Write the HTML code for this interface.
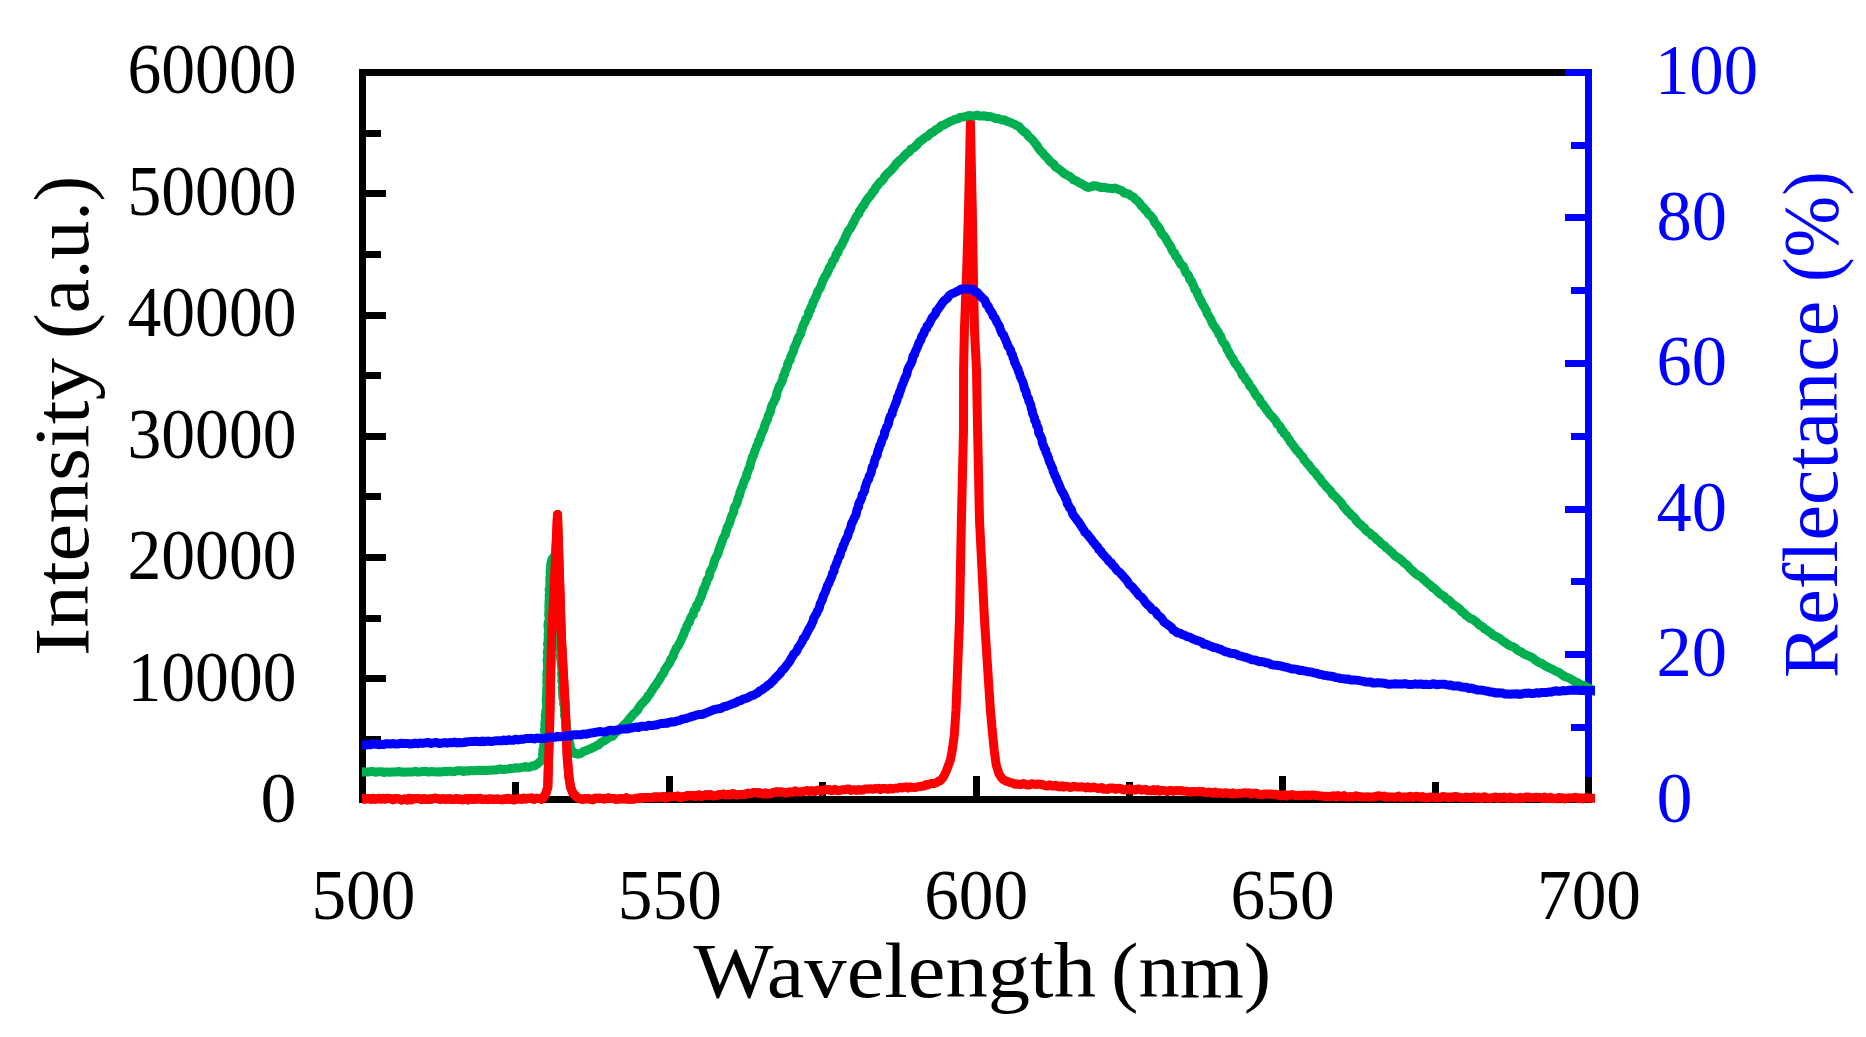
<!DOCTYPE html>
<html><head><meta charset="utf-8"><title>Spectra</title>
<style>
html,body{margin:0;padding:0;background:#fff;}
body{width:1866px;height:1037px;overflow:hidden;}
svg{display:block;}
text{font-family:"Liberation Serif",serif;}
</style></head><body>
<svg width="1866" height="1037" viewBox="0 0 1866 1037">
<rect width="1866" height="1037" fill="#fff"/>
<g shape-rendering="crispEdges">
<rect x="359" y="69" width="7" height="734" fill="#000"/>
<rect x="359" y="69" width="1206" height="7" fill="#000"/>
<rect x="359" y="796" width="1233" height="7" fill="#000"/>
<rect x="366" y="736" width="15" height="7" fill="#000"/>
<rect x="366" y="675" width="20" height="7" fill="#000"/>
<rect x="366" y="615" width="15" height="7" fill="#000"/>
<rect x="366" y="554" width="20" height="7" fill="#000"/>
<rect x="366" y="493" width="15" height="7" fill="#000"/>
<rect x="366" y="433" width="20" height="7" fill="#000"/>
<rect x="366" y="372" width="15" height="7" fill="#000"/>
<rect x="366" y="312" width="20" height="7" fill="#000"/>
<rect x="366" y="251" width="15" height="7" fill="#000"/>
<rect x="366" y="190" width="20" height="7" fill="#000"/>
<rect x="366" y="130" width="15" height="7" fill="#000"/>
<rect x="512" y="782" width="7" height="14" fill="#000"/>
<rect x="666" y="776" width="7" height="20" fill="#000"/>
<rect x="819" y="782" width="7" height="14" fill="#000"/>
<rect x="973" y="776" width="7" height="20" fill="#000"/>
<rect x="1126" y="782" width="7" height="14" fill="#000"/>
<rect x="1279" y="776" width="7" height="20" fill="#000"/>
<rect x="1432" y="782" width="7" height="14" fill="#000"/>
<rect x="1585" y="776" width="7" height="20" fill="#000"/>
<rect x="1585" y="69" width="7" height="708" fill="#00f"/>
<rect x="1565" y="69" width="27" height="7" fill="#00f"/>
<rect x="1571" y="724" width="14" height="7" fill="#00f"/>
<rect x="1565" y="651" width="20" height="7" fill="#00f"/>
<rect x="1571" y="578" width="14" height="7" fill="#00f"/>
<rect x="1565" y="506" width="20" height="7" fill="#00f"/>
<rect x="1571" y="433" width="14" height="7" fill="#00f"/>
<rect x="1565" y="360" width="20" height="7" fill="#00f"/>
<rect x="1571" y="287" width="14" height="7" fill="#00f"/>
<rect x="1565" y="214" width="20" height="7" fill="#00f"/>
<rect x="1571" y="142" width="14" height="7" fill="#00f"/>
</g>
<defs><clipPath id="c1"><rect x="350" y="60" width="440" height="760"/></clipPath><clipPath id="c0"><rect x="362" y="60" width="1233" height="760"/></clipPath></defs>
<g fill="none" stroke-linejoin="round" stroke-linecap="butt" stroke-width="9.0" clip-path="url(#c0)">
<path d="M357.0,799.1L359.0,799.1L361.0,799.1L363.1,799.1L365.1,799.1L367.1,798.8L369.1,798.5L371.2,799.4L373.2,798.3L375.2,799.2L377.2,798.9L379.2,798.3L381.3,799.1L383.3,798.3L385.3,799.0L387.3,798.3L389.3,798.4L391.4,799.0L393.4,799.7L395.4,798.4L397.4,798.6L399.5,799.3L401.5,799.9L403.5,799.2L405.5,798.9L407.5,800.0L409.6,798.3L411.6,799.7L413.6,798.7L415.6,798.5L417.7,798.4L419.7,798.8L421.7,799.7L423.7,798.5L425.7,799.2L427.8,799.4L429.8,798.9L431.8,799.2L433.8,798.3L435.8,798.3L437.9,798.6L439.9,799.4L441.9,799.0L443.9,798.8L446.0,799.3L448.0,799.0L450.0,798.7L452.0,799.6L454.0,799.5L456.0,798.6L458.0,799.2L460.0,799.1L462.0,799.8L464.0,799.5L466.0,798.7L468.0,799.9L470.0,798.4L472.0,798.9L474.0,799.5L476.0,798.4L478.0,799.0L480.0,798.2L482.0,799.4L484.0,799.5L486.0,799.2L488.0,799.7L490.0,798.7L492.0,799.4L494.0,799.2L496.0,799.2L498.0,799.0L500.0,799.6L502.0,799.8L504.0,799.0L506.0,799.3L508.0,798.2L510.0,799.4L512.0,799.3L514.0,799.9L516.0,799.6L518.0,798.6L520.0,798.8L522.0,799.3L524.0,798.1L526.0,798.9L528.0,798.3L530.0,798.2L532.0,798.1L534.0,799.3L536.0,798.2L538.0,798.4L540.0,798.6L541.5,799.2L543.0,798.3L546.0,793.0L547.8,787.0L548.6,758.0L549.5,730.0L551.4,640.0L556.4,540.0L557.5,514.6L558.3,540.0L561.5,640.0L565.4,710.0L567.3,758.0L569.0,777.5L570.5,787.0L573.0,793.2L575.5,795.8L578.0,797.9L579.8,798.8L581.5,798.9L583.2,799.3L585.0,798.5L587.0,798.7L588.9,798.6L590.9,799.5L592.9,799.7L594.8,798.2L596.8,798.2L598.8,798.3L600.7,798.3L602.7,798.7L604.6,798.9L606.6,798.3L608.6,797.8L610.5,798.6L612.5,798.5L614.5,798.8L616.4,799.5L618.4,799.0L620.4,798.7L622.3,798.8L624.3,798.9L626.2,797.8L628.2,799.3L630.2,799.1L632.1,799.2L634.1,799.1L636.1,798.3L638.0,798.3L640.0,797.8L642.0,798.6L644.0,797.5L646.0,797.4L648.0,797.6L650.0,797.4L651.9,797.7L653.9,797.0L655.9,796.9L657.9,797.0L659.9,796.9L661.9,797.2L663.9,796.5L665.9,798.0L667.9,797.4L669.9,796.5L671.8,796.6L673.8,796.6L675.8,796.6L677.8,796.1L679.8,797.3L681.8,797.4L683.8,796.4L685.8,796.3L687.8,795.5L689.8,795.5L691.8,795.8L693.7,795.6L695.7,796.5L697.7,795.2L699.7,794.9L701.7,796.4L703.7,795.6L705.7,794.8L707.7,795.4L709.7,794.4L711.7,795.2L713.6,795.9L715.6,795.6L717.6,795.2L719.6,794.4L721.6,794.5L723.6,794.0L725.6,795.0L727.6,794.5L729.6,794.9L731.6,794.0L733.5,793.7L735.5,794.7L737.5,794.9L739.5,794.6L741.5,794.5L743.5,794.4L745.5,794.2L747.5,793.2L749.5,793.7L751.5,793.3L753.4,792.6L755.4,792.6L757.4,792.9L759.4,792.8L761.4,793.5L763.4,793.9L765.4,792.9L767.4,793.7L769.4,793.8L771.3,793.6L773.3,792.5L775.3,792.1L777.3,792.1L779.3,792.0L781.3,791.9L783.3,792.5L785.3,792.9L787.3,792.7L789.3,791.9L791.2,792.1L793.2,792.3L795.2,790.9L797.2,791.8L799.2,792.1L801.2,791.8L803.2,791.6L805.2,791.0L807.2,790.4L809.2,791.4L811.1,790.4L813.1,791.2L815.1,791.4L817.1,790.2L819.1,790.1L821.1,791.0L823.1,790.6L825.1,789.5L827.1,789.4L829.1,789.4L831.1,790.8L833.0,790.6L835.0,789.3L837.0,790.5L839.0,790.8L841.0,790.1L843.0,789.6L845.0,789.9L847.0,789.1L849.0,788.9L851.0,790.5L852.9,789.9L854.9,789.7L856.9,790.4L858.9,789.4L860.9,790.2L862.9,790.1L864.9,788.9L866.8,788.9L868.8,788.9L870.7,788.7L872.7,789.3L874.6,788.6L876.6,788.8L878.5,788.2L880.5,789.6L882.4,788.5L884.4,788.6L886.3,788.8L888.3,789.3L890.2,788.3L892.2,789.1L894.1,788.3L896.1,788.3L898.0,788.2L900.0,787.2L902.1,787.9L904.1,787.3L906.2,786.8L908.3,788.1L910.3,786.8L912.4,787.3L914.5,787.6L916.5,787.1L918.6,786.6L920.5,786.5L922.4,786.1L924.3,786.1L926.2,784.5L928.1,784.8L930.0,783.8L932.0,783.4L934.0,783.8L936.0,782.8L938.2,781.5L940.5,780.5L942.2,778.7L944.0,776.0L946.5,770.5L950.4,760.0L952.3,750.0L954.3,735.0L956.0,710.0L959.5,620.0L961.4,520.0L963.5,430.0L963.6,370.0L964.4,330.0L966.7,270.0L968.5,210.0L970.4,122.0L972.3,210.0L973.3,270.0L974.5,330.0L976.5,370.0L977.4,420.0L979.5,520.0L984.5,620.0L990.4,710.0L992.2,730.0L994.2,750.0L996.2,765.0L999.0,773.9L1001.0,777.0L1003.0,779.5L1004.8,780.3L1006.5,781.3L1008.2,781.7L1010.0,782.6L1012.5,783.0L1015.0,784.3L1017.1,784.0L1019.2,784.4L1021.2,784.6L1023.3,783.5L1025.4,784.2L1027.5,785.0L1029.6,784.9L1031.7,783.8L1033.8,783.9L1035.8,784.6L1037.9,784.0L1040.0,784.4L1042.0,784.2L1044.0,785.4L1046.0,785.8L1048.0,786.1L1049.9,784.8L1051.9,786.0L1053.9,786.0L1055.9,785.2L1057.9,786.6L1059.9,786.9L1061.9,785.7L1063.9,787.1L1065.9,786.2L1067.8,786.5L1069.8,787.5L1071.8,787.3L1073.8,786.2L1075.8,786.8L1077.8,787.1L1079.8,786.9L1081.8,786.8L1083.8,787.1L1085.8,787.9L1087.7,786.8L1089.7,787.9L1091.7,787.8L1093.7,787.1L1095.7,787.8L1097.7,788.4L1099.7,788.3L1101.7,787.5L1103.7,789.3L1105.7,789.0L1107.7,789.4L1109.7,787.9L1111.6,788.3L1113.6,787.9L1115.6,789.4L1117.6,788.5L1119.6,788.3L1121.6,788.9L1123.6,789.9L1125.6,789.8L1127.6,788.9L1129.6,788.7L1131.6,790.2L1133.6,789.7L1135.6,790.0L1137.5,788.9L1139.5,789.0L1141.5,790.2L1143.5,789.8L1145.5,789.2L1147.5,790.8L1149.5,790.4L1151.5,790.7L1153.5,789.5L1155.5,791.0L1157.5,789.7L1159.5,791.2L1161.4,790.5L1163.4,790.4L1165.4,790.9L1167.4,791.6L1169.4,790.5L1171.4,790.4L1173.4,791.2L1175.4,790.7L1177.4,790.6L1179.3,790.7L1181.3,790.6L1183.3,791.0L1185.3,791.3L1187.3,791.3L1189.3,792.2L1191.3,791.5L1193.3,791.9L1195.3,791.4L1197.3,791.8L1199.2,791.3L1201.2,791.8L1203.2,791.5L1205.2,792.8L1207.2,792.6L1209.2,792.0L1211.2,792.6L1213.2,793.4L1215.2,792.0L1217.2,793.3L1219.1,792.7L1221.1,792.9L1223.1,793.5L1225.1,792.8L1227.1,793.0L1229.1,793.4L1231.1,794.0L1233.1,792.9L1235.1,793.8L1237.1,793.7L1239.0,793.6L1241.0,793.2L1243.0,793.2L1245.0,792.7L1247.0,792.9L1249.0,792.8L1251.0,794.1L1252.9,793.3L1254.9,793.2L1256.8,793.2L1258.8,794.6L1260.8,794.8L1262.7,794.5L1264.7,793.9L1266.7,793.9L1268.6,794.0L1270.6,794.4L1272.5,794.0L1274.5,794.6L1276.5,794.3L1278.4,795.6L1280.4,795.7L1282.3,795.1L1284.3,794.6L1286.3,796.0L1288.2,794.9L1290.2,795.0L1292.2,794.5L1294.1,795.2L1296.1,795.5L1298.0,795.6L1300.0,795.2L1302.0,795.7L1304.0,794.9L1306.0,795.4L1308.0,795.1L1310.0,795.7L1312.0,795.0L1314.0,795.0L1316.0,795.6L1318.0,795.5L1320.0,796.1L1322.0,796.0L1324.0,796.5L1326.0,796.3L1328.0,796.5L1330.0,796.8L1332.0,795.9L1334.0,795.8L1336.0,797.1L1338.0,795.6L1340.0,796.6L1342.0,796.5L1344.0,795.5L1346.0,796.9L1348.0,797.0L1350.0,796.6L1352.0,796.8L1354.0,797.0L1356.0,795.8L1358.0,796.5L1360.0,796.5L1362.0,797.1L1364.0,797.1L1366.1,797.1L1368.1,796.7L1370.1,797.3L1372.1,797.0L1374.1,797.0L1376.2,796.2L1378.2,795.8L1380.2,796.0L1382.2,796.5L1384.2,796.0L1386.3,797.4L1388.3,796.9L1390.3,797.0L1392.3,797.1L1394.3,797.2L1396.4,796.9L1398.4,796.0L1400.4,797.4L1402.4,797.4L1404.5,797.0L1406.5,797.0L1408.5,797.3L1410.5,796.2L1412.5,797.5L1414.6,796.6L1416.6,796.3L1418.6,796.7L1420.6,797.5L1422.6,796.6L1424.7,797.6L1426.7,798.0L1428.7,797.2L1430.7,797.0L1432.7,797.2L1434.6,797.6L1436.6,797.7L1438.6,797.5L1440.6,797.5L1442.6,796.5L1444.5,796.7L1446.5,796.9L1448.5,797.8L1450.5,797.0L1452.5,797.5L1454.4,796.5L1456.4,796.6L1458.4,797.0L1460.4,797.7L1462.4,797.8L1464.3,797.8L1466.3,797.1L1468.3,797.5L1470.3,797.4L1472.3,797.4L1474.3,796.8L1476.2,798.2L1478.2,797.0L1480.2,798.4L1482.2,798.4L1484.2,796.7L1486.1,797.5L1488.1,798.2L1490.1,798.5L1492.1,797.6L1494.1,797.2L1496.0,797.1L1498.0,798.5L1500.0,797.2L1502.0,797.9L1504.0,797.1L1506.1,797.8L1508.1,798.6L1510.1,797.1L1512.1,798.3L1514.1,797.8L1516.2,798.5L1518.2,798.2L1520.2,797.3L1522.2,798.5L1524.2,797.8L1526.3,797.0L1528.3,796.9L1530.3,797.8L1532.3,797.8L1534.3,797.5L1536.4,797.2L1538.4,797.6L1540.4,797.6L1542.4,798.5L1544.4,797.0L1546.5,798.4L1548.5,798.6L1550.5,797.3L1552.5,798.7L1554.5,798.4L1556.6,798.7L1558.6,797.6L1560.6,797.8L1562.6,797.8L1564.6,798.9L1566.7,798.2L1568.7,797.8L1570.7,797.9L1572.7,797.7L1574.7,797.3L1576.8,797.4L1578.8,798.7L1580.8,797.7L1582.8,798.9L1584.8,797.7L1586.9,797.7L1588.9,798.2L1590.9,798.2L1592.9,798.2L1594.9,798.2L1597.0,798.2L1599.0,798.2L1601.0,798.2" stroke="#f00"/>
<path d="M357.0,772.0L358.4,772.0L359.9,771.7L361.7,772.0L363.7,771.8L365.8,772.1L368.0,772.1L370.4,771.5L373.0,771.4L375.6,772.3L378.3,771.7L381.1,771.7L383.9,772.5L386.8,771.9L389.8,772.3L392.7,771.9L395.7,772.1L398.6,771.5L401.5,772.1L404.4,772.3L407.2,771.9L410.0,772.1L412.6,772.0L415.2,771.3L417.7,772.1L420.0,771.9L422.8,771.5L425.6,771.2L428.4,772.1L431.1,771.6L433.9,771.8L436.6,772.0L439.3,771.7L441.9,771.9L444.5,771.3L447.1,771.7L449.6,771.2L452.1,771.7L454.5,771.6L456.9,770.7L459.2,770.7L461.5,770.7L463.7,771.5L465.9,770.8L468.0,771.0L470.0,770.6L473.2,770.7L476.2,770.4L478.9,770.3L481.5,770.4L484.0,770.3L486.3,770.5L488.6,770.2L490.8,770.3L493.0,770.1L495.3,770.1L497.6,769.6L500.0,768.9L502.5,769.4L505.2,769.4L507.9,769.1L510.5,768.5L513.3,768.4L515.9,767.7L518.6,768.1L521.0,767.6L523.3,767.1L525.4,766.6L527.4,767.3L529.1,767.2L533.0,765.7L534.8,765.9L536.0,764.9L538.1,763.4L539.8,761.9L541.7,759.9L542.9,757.1L542.4,754.9L543.2,752.7L542.8,749.9L543.8,747.7L543.7,745.2L544.6,742.4L545.0,739.0L544.6,737.0L545.3,734.9L544.7,732.5L544.5,730.0L545.2,727.6L544.7,725.0L545.0,722.5L545.3,720.0L545.6,717.9L545.2,716.2L545.2,714.7L546.2,713.2L545.7,711.2L546.5,708.6L546.6,704.9L546.2,700.0L546.3,698.3L546.4,696.5L546.6,694.5L546.7,692.4L546.7,690.1L546.8,687.8L547.2,685.3L546.8,682.8L546.8,680.1L547.2,677.5L546.8,674.7L546.9,671.9L547.8,669.1L547.4,666.3L547.5,663.4L547.0,660.5L547.5,657.7L547.8,654.8L547.2,652.0L548.0,649.3L548.1,646.6L547.5,643.9L548.2,641.4L548.1,638.9L548.4,636.5L548.1,634.2L548.6,632.0L548.7,630.0L548.0,626.6L548.1,623.4L548.9,620.4L549.3,617.6L548.6,614.8L548.9,612.1L549.1,609.6L548.8,607.2L549.0,604.8L549.0,602.6L549.1,600.4L549.4,598.2L549.2,596.1L549.3,594.1L549.8,592.0L549.1,590.0L549.8,586.8L550.1,583.8L549.8,580.8L549.8,578.0L550.6,575.5L550.1,573.0L550.1,570.7L550.6,568.6L551.0,566.7L550.6,564.9L551.5,560.8L552.4,558.5L553.8,558.2L554.5,555.6L555.3,555.0L557.4,565.0L557.3,566.4L557.0,568.0L556.9,569.6L557.4,571.4L557.8,573.3L558.0,575.4L557.7,577.5L558.1,579.7L557.6,582.1L557.7,584.5L558.5,587.0L558.5,589.6L558.0,592.3L558.3,595.0L558.2,597.7L558.9,600.5L559.2,603.4L559.1,606.3L558.7,609.2L559.4,612.2L559.4,615.1L559.5,618.1L559.6,621.1L559.7,624.1L559.2,627.0L560.2,630.0L560.5,632.9L559.5,635.8L559.7,638.7L559.7,641.5L560.4,644.3L560.0,647.0L560.1,649.7L561.0,652.3L560.5,654.8L560.5,657.3L560.8,659.7L561.1,661.9L561.4,664.1L561.5,666.2L561.7,668.1L562.0,670.0L561.6,674.0L562.2,677.8L561.8,681.3L562.9,684.5L562.1,687.6L562.5,690.4L562.5,693.0L562.7,695.5L562.9,697.8L563.4,700.0L564.3,702.0L563.6,704.1L564.5,705.9L564.5,707.8L564.3,709.7L564.6,711.4L564.9,713.2L564.5,715.1L565.3,718.8L566.0,721.9L566.4,724.6L566.1,727.1L566.9,729.1L567.0,731.1L567.8,733.0L568.3,734.9L568.5,738.2L568.8,741.1L570.0,743.6L570.0,746.1L570.6,748.2L572.1,751.0L573.6,753.0L575.7,753.5L578.1,754.2L581.1,753.4L583.2,751.6L585.9,750.7L588.8,749.4L591.2,748.5L593.6,747.2L596.1,745.9L598.7,744.8L600.6,742.7L603.0,741.4L605.4,740.0L607.8,738.4L609.7,737.0L612.2,736.4L614.0,734.7L615.4,732.5L617.7,731.1L619.5,729.2L621.4,727.4L623.4,725.4L625.6,723.6L627.4,721.5L628.9,719.6L630.3,717.7L632.0,716.0L633.5,714.0L635.4,712.4L637.2,710.6L638.5,708.4L639.8,706.2L641.5,704.2L643.3,702.3L645.1,700.3L646.9,698.2L647.9,696.1L649.7,694.4L650.9,692.2L652.2,690.1L653.5,688.0L655.0,686.0L656.5,684.1L657.6,682.0L659.1,680.3L660.1,678.3L661.1,676.3L662.6,674.4L664.0,672.3L664.8,669.6L666.2,667.9L667.3,665.9L668.9,664.1L670.1,662.0L670.7,659.5L672.4,657.5L673.5,655.2L674.1,652.6L675.5,650.4L676.3,647.9L678.1,646.2L679.0,644.0L680.3,641.9L681.2,639.7L682.2,637.5L683.3,635.3L684.2,633.0L684.8,630.6L686.3,628.6L686.8,626.1L687.9,624.0L689.5,622.2L689.8,619.9L690.7,618.1L691.6,616.2L693.2,614.8L693.4,612.5L694.2,610.4L696.1,608.5L696.4,605.7L698.4,603.1L699.6,599.8L700.5,598.1L701.4,596.2L701.8,594.1L702.9,592.1L703.0,589.6L704.6,587.7L705.3,585.2L706.4,582.9L706.8,580.3L708.4,578.1L709.6,575.6L709.7,572.8L710.9,570.3L712.2,567.9L713.4,565.4L713.8,562.7L714.7,560.1L715.8,557.6L717.1,555.3L718.2,553.0L718.7,550.5L719.6,548.1L720.5,545.8L721.3,543.4L722.3,541.1L722.8,538.7L724.1,536.5L725.5,534.4L725.7,531.9L726.9,529.8L727.2,527.3L728.6,525.2L729.5,523.0L730.2,520.7L730.9,518.4L731.7,516.1L732.7,513.9L733.8,511.7L733.9,509.1L734.7,506.8L736.2,504.7L737.2,502.4L737.7,499.9L738.4,497.6L739.6,495.4L739.8,492.9L740.8,490.6L741.5,488.2L742.8,486.0L743.3,483.5L744.1,481.1L745.4,478.9L746.5,476.7L746.7,474.0L747.9,471.8L748.5,469.3L749.8,467.1L750.3,464.7L750.8,462.2L751.6,459.8L752.3,457.4L753.6,455.2L754.3,452.9L755.0,450.5L756.0,448.3L756.8,445.9L758.2,443.7L758.4,441.2L760.1,439.2L760.4,436.7L761.4,434.4L762.1,432.1L763.4,430.0L764.2,427.7L764.8,425.3L765.6,423.0L766.7,420.9L767.7,418.6L768.1,416.2L769.3,414.0L770.4,411.8L770.8,409.3L771.4,406.9L772.3,404.6L773.7,402.4L774.6,400.0L775.8,397.9L776.5,395.5L776.8,393.0L777.6,390.6L778.6,388.3L779.4,385.9L780.9,383.7L781.9,381.4L782.9,379.0L783.1,376.4L784.7,374.2L785.0,371.6L786.1,369.3L787.3,367.0L787.6,364.4L788.5,362.0L790.2,360.0L790.5,357.4L791.5,355.1L792.6,352.9L793.7,350.6L793.9,348.1L795.2,345.8L796.2,343.4L797.2,341.0L797.9,338.5L799.3,336.2L800.7,333.9L801.1,331.2L802.2,328.8L802.8,326.2L803.9,323.9L805.3,321.6L805.7,319.1L807.4,317.1L808.4,314.8L808.5,312.2L810.3,310.4L810.6,308.0L811.8,306.1L812.7,304.1L813.0,302.0L814.2,300.3L815.5,297.3L816.9,294.5L817.6,291.7L819.2,289.4L820.5,287.2L821.3,284.9L822.2,282.7L822.8,280.5L824.1,278.6L825.0,276.5L826.4,274.6L827.4,272.5L828.5,270.1L829.3,267.6L830.9,265.6L832.0,263.4L832.7,260.9L834.5,259.1L835.4,256.9L836.0,254.5L838.0,252.7L838.3,250.2L839.7,248.1L841.2,246.1L842.2,243.8L843.3,241.6L844.5,239.5L845.4,237.2L846.4,235.0L847.4,232.7L848.5,230.5L850.2,228.7L851.5,226.5L852.5,224.2L853.9,222.2L854.7,219.8L855.9,217.6L857.2,215.5L859.0,213.6L859.4,211.0L861.2,209.1L862.3,206.8L864.1,205.0L865.1,202.6L866.6,200.4L868.0,198.4L869.6,196.5L871.3,194.6L872.5,192.3L874.5,190.6L875.4,188.0L877.1,186.1L878.6,184.0L880.1,182.1L882.2,180.7L883.6,178.8L884.6,176.7L886.4,174.6L888.3,172.7L890.2,171.1L891.9,169.4L893.4,167.6L894.9,165.8L896.2,163.7L898.2,162.0L900.0,160.0L901.9,158.6L903.7,156.8L905.3,154.7L907.2,152.9L909.6,151.5L911.0,149.0L913.5,147.9L915.5,146.2L917.3,144.6L918.7,142.5L920.5,141.2L922.9,139.3L925.2,137.5L927.6,136.2L929.4,134.5L931.2,132.7L933.5,131.9L935.2,130.2L937.4,128.9L939.6,127.6L941.2,125.7L943.6,125.2L945.5,124.0L947.5,122.8L950.0,121.7L952.6,120.5L955.0,119.3L957.6,118.8L959.8,117.5L962.8,117.1L965.4,116.6L967.9,115.8L970.6,115.6L972.8,115.9L975.0,115.8L977.3,115.1L979.5,116.1L982.0,116.1L984.3,115.7L986.6,116.4L989.0,116.6L991.4,116.8L993.6,117.7L995.6,118.5L998.4,118.4L1000.5,119.5L1002.7,120.0L1005.1,120.1L1007.3,121.6L1009.9,122.1L1012.3,123.4L1014.9,124.4L1016.9,125.7L1019.1,126.7L1020.8,128.7L1022.7,130.5L1024.7,132.3L1026.7,133.6L1028.0,135.7L1029.9,137.5L1031.8,139.1L1033.3,140.9L1034.6,142.6L1036.1,144.6L1037.4,146.2L1038.4,148.0L1039.9,150.1L1041.4,151.6L1043.1,153.4L1044.6,155.5L1046.7,157.2L1048.3,159.2L1049.7,161.2L1051.9,162.8L1054.0,164.4L1055.3,166.7L1057.3,168.2L1059.5,169.5L1061.4,171.0L1063.2,172.6L1065.1,174.1L1067.3,175.2L1069.4,176.3L1071.6,178.0L1073.7,180.0L1076.4,180.8L1078.7,182.5L1081.3,183.7L1083.8,185.2L1086.2,186.5L1088.2,187.5L1091.1,186.7L1093.9,185.6L1096.0,185.9L1098.2,186.5L1100.4,187.4L1102.8,187.3L1105.2,187.5L1107.7,188.2L1110.2,188.3L1112.3,188.7L1114.7,188.0L1117.1,188.9L1119.3,189.8L1122.1,190.7L1124.2,193.0L1126.9,193.5L1129.4,194.5L1131.3,196.0L1133.7,197.2L1134.9,198.9L1136.6,200.2L1138.4,201.8L1140.0,203.5L1141.2,205.8L1143.3,207.3L1144.6,209.6L1146.7,211.3L1148.2,213.8L1150.6,215.6L1152.1,217.6L1153.6,219.7L1154.6,222.3L1156.3,224.5L1158.1,226.7L1159.8,228.9L1160.5,231.2L1161.4,233.2L1162.8,234.9L1164.5,236.5L1165.8,238.6L1167.1,241.0L1168.7,243.7L1169.9,245.3L1171.0,247.1L1171.7,249.4L1172.8,251.6L1174.8,253.3L1175.5,255.9L1177.4,257.7L1178.5,260.1L1179.8,262.4L1181.1,264.6L1183.3,266.2L1184.3,268.5L1185.2,270.8L1186.1,273.1L1188.1,274.7L1189.1,276.9L1189.7,279.4L1191.5,281.1L1192.4,283.4L1193.5,285.5L1194.3,287.8L1195.2,290.1L1197.0,291.8L1197.5,294.2L1198.8,296.6L1199.9,299.1L1201.4,301.4L1202.3,304.1L1204.1,306.4L1205.2,308.8L1206.6,311.1L1207.2,313.7L1208.6,315.7L1209.8,317.7L1210.9,319.5L1211.8,322.4L1213.0,324.2L1213.8,325.8L1215.1,327.2L1216.3,329.4L1218.4,332.3L1218.8,334.3L1220.5,335.8L1221.2,338.0L1222.1,340.3L1223.4,342.4L1225.2,344.4L1226.4,346.9L1227.2,349.6L1228.8,352.0L1229.9,354.6L1231.4,357.0L1233.2,359.2L1234.2,361.9L1235.7,364.1L1237.4,366.0L1238.7,368.2L1240.3,370.2L1241.4,372.6L1242.3,375.2L1244.5,376.9L1245.5,379.4L1247.4,381.4L1248.9,383.5L1249.8,386.0L1251.6,387.9L1253.1,389.9L1254.4,392.0L1255.3,394.3L1256.7,396.2L1258.8,398.1L1260.1,400.3L1260.9,402.8L1263.0,404.3L1264.1,406.4L1265.6,408.1L1266.7,410.2L1268.3,412.0L1269.6,414.1L1271.4,415.9L1273.3,417.8L1275.0,420.0L1276.4,421.7L1277.1,424.0L1279.1,425.4L1280.6,427.3L1281.2,429.9L1283.3,431.3L1284.2,433.8L1286.4,435.3L1287.5,437.6L1289.3,439.5L1290.3,441.9L1292.0,443.8L1293.5,445.9L1295.0,448.0L1296.4,450.1L1298.4,451.8L1299.7,453.8L1301.3,455.6L1303.0,457.3L1303.9,459.7L1305.6,461.4L1306.9,463.4L1308.9,464.9L1310.1,467.0L1311.7,468.9L1313.0,470.9L1315.1,472.4L1316.4,474.5L1317.9,476.5L1319.8,478.1L1321.0,480.3L1322.4,482.3L1324.3,484.0L1325.7,486.1L1327.4,488.0L1329.5,489.7L1331.1,491.8L1332.4,494.3L1334.7,495.9L1336.4,498.0L1338.5,499.8L1340.2,501.9L1342.0,503.8L1343.1,506.3L1345.0,508.0L1346.5,510.0L1348.0,511.8L1349.9,513.2L1351.1,515.1L1352.8,516.3L1355.1,518.5L1356.5,520.9L1358.1,522.5L1359.6,524.1L1361.4,525.2L1362.6,526.9L1364.5,528.0L1365.7,530.1L1367.8,531.9L1370.5,533.5L1371.5,535.3L1373.7,536.2L1375.4,537.6L1376.7,539.7L1378.8,540.9L1380.5,542.7L1382.3,544.5L1384.7,545.7L1386.2,548.0L1388.5,549.4L1390.4,551.2L1392.5,552.9L1394.2,555.0L1396.2,556.7L1398.5,558.0L1400.6,559.5L1402.4,561.3L1404.2,563.0L1406.3,564.4L1408.2,566.1L1409.7,568.3L1411.7,569.9L1413.5,571.8L1415.4,573.4L1417.4,575.0L1419.7,576.2L1421.8,577.7L1423.6,579.4L1425.4,581.1L1427.2,582.8L1429.1,584.3L1431.0,585.7L1432.4,587.6L1434.5,588.5L1436.6,590.5L1438.4,592.6L1440.5,594.3L1442.8,595.5L1444.8,597.1L1446.3,599.1L1448.7,600.0L1450.5,601.7L1452.1,603.6L1454.0,605.1L1456.2,606.4L1458.3,607.9L1460.3,609.7L1461.8,611.7L1464.0,613.0L1465.7,615.1L1467.9,616.5L1469.8,618.3L1472.5,619.1L1474.5,620.8L1476.7,622.3L1478.5,624.3L1480.6,625.7L1482.9,627.0L1484.6,629.0L1487.0,630.1L1488.9,631.7L1491.1,633.1L1493.0,635.1L1495.4,636.2L1497.7,637.4L1500.0,638.6L1501.9,640.3L1504.0,641.9L1506.1,643.2L1508.2,644.8L1510.4,646.0L1512.9,646.7L1515.2,647.9L1517.0,649.8L1519.2,651.1L1521.6,652.2L1523.6,653.8L1526.0,654.8L1528.4,655.8L1530.7,656.9L1533.0,658.0L1534.9,659.9L1537.0,661.3L1539.2,662.6L1541.7,663.4L1543.8,664.8L1545.9,666.3L1548.2,667.4L1550.6,668.5L1553.0,669.6L1555.3,671.0L1557.9,671.9L1560.2,673.2L1562.3,674.9L1564.4,676.5L1566.9,677.2L1569.2,678.3L1571.3,679.3L1573.3,680.5L1575.0,681.8L1577.9,682.8L1580.3,684.6L1583.2,685.1L1585.5,686.3L1587.6,687.6L1589.8,688.5L1591.5,689.8L1593.3,690.6L1594.8,691.4L1598.2,692.5L1600.0,693.2L1601.0,693.7" stroke="#00b050"/>
<path d="M357.0,799.1L359.0,799.1L361.0,799.1L363.1,799.1L365.1,799.1L367.1,798.8L369.1,798.5L371.2,799.4L373.2,798.3L375.2,799.2L377.2,798.9L379.2,798.3L381.3,799.1L383.3,798.3L385.3,799.0L387.3,798.3L389.3,798.4L391.4,799.0L393.4,799.7L395.4,798.4L397.4,798.6L399.5,799.3L401.5,799.9L403.5,799.2L405.5,798.9L407.5,800.0L409.6,798.3L411.6,799.7L413.6,798.7L415.6,798.5L417.7,798.4L419.7,798.8L421.7,799.7L423.7,798.5L425.7,799.2L427.8,799.4L429.8,798.9L431.8,799.2L433.8,798.3L435.8,798.3L437.9,798.6L439.9,799.4L441.9,799.0L443.9,798.8L446.0,799.3L448.0,799.0L450.0,798.7L452.0,799.6L454.0,799.5L456.0,798.6L458.0,799.2L460.0,799.1L462.0,799.8L464.0,799.5L466.0,798.7L468.0,799.9L470.0,798.4L472.0,798.9L474.0,799.5L476.0,798.4L478.0,799.0L480.0,798.2L482.0,799.4L484.0,799.5L486.0,799.2L488.0,799.7L490.0,798.7L492.0,799.4L494.0,799.2L496.0,799.2L498.0,799.0L500.0,799.6L502.0,799.8L504.0,799.0L506.0,799.3L508.0,798.2L510.0,799.4L512.0,799.3L514.0,799.9L516.0,799.6L518.0,798.6L520.0,798.8L522.0,799.3L524.0,798.1L526.0,798.9L528.0,798.3L530.0,798.2L532.0,798.1L534.0,799.3L536.0,798.2L538.0,798.4L540.0,798.6L541.5,799.2L543.0,798.3L546.0,793.0L547.8,787.0L548.6,758.0L549.5,730.0L551.4,640.0L556.4,540.0L557.5,514.6L558.3,540.0L561.5,640.0L565.4,710.0L567.3,758.0L569.0,777.5L570.5,787.0L573.0,793.2L575.5,795.8L578.0,797.9L579.8,798.8L581.5,798.9L583.2,799.3L585.0,798.5L587.0,798.7L588.9,798.6L590.9,799.5L592.9,799.7L594.8,798.2L596.8,798.2L598.8,798.3L600.7,798.3L602.7,798.7L604.6,798.9L606.6,798.3L608.6,797.8L610.5,798.6L612.5,798.5L614.5,798.8L616.4,799.5L618.4,799.0L620.4,798.7L622.3,798.8L624.3,798.9L626.2,797.8L628.2,799.3L630.2,799.1L632.1,799.2L634.1,799.1L636.1,798.3L638.0,798.3L640.0,797.8L642.0,798.6L644.0,797.5L646.0,797.4L648.0,797.6L650.0,797.4L651.9,797.7L653.9,797.0L655.9,796.9L657.9,797.0L659.9,796.9L661.9,797.2L663.9,796.5L665.9,798.0L667.9,797.4L669.9,796.5L671.8,796.6L673.8,796.6L675.8,796.6L677.8,796.1L679.8,797.3L681.8,797.4L683.8,796.4L685.8,796.3L687.8,795.5L689.8,795.5L691.8,795.8L693.7,795.6L695.7,796.5L697.7,795.2L699.7,794.9L701.7,796.4L703.7,795.6L705.7,794.8L707.7,795.4L709.7,794.4L711.7,795.2L713.6,795.9L715.6,795.6L717.6,795.2L719.6,794.4L721.6,794.5L723.6,794.0L725.6,795.0L727.6,794.5L729.6,794.9L731.6,794.0L733.5,793.7L735.5,794.7L737.5,794.9L739.5,794.6L741.5,794.5L743.5,794.4L745.5,794.2L747.5,793.2L749.5,793.7L751.5,793.3L753.4,792.6L755.4,792.6L757.4,792.9L759.4,792.8L761.4,793.5L763.4,793.9L765.4,792.9L767.4,793.7L769.4,793.8L771.3,793.6L773.3,792.5L775.3,792.1L777.3,792.1L779.3,792.0L781.3,791.9L783.3,792.5L785.3,792.9L787.3,792.7L789.3,791.9L791.2,792.1L793.2,792.3L795.2,790.9L797.2,791.8L799.2,792.1L801.2,791.8L803.2,791.6L805.2,791.0L807.2,790.4L809.2,791.4L811.1,790.4L813.1,791.2L815.1,791.4L817.1,790.2L819.1,790.1L821.1,791.0L823.1,790.6L825.1,789.5L827.1,789.4L829.1,789.4L831.1,790.8L833.0,790.6L835.0,789.3L837.0,790.5L839.0,790.8L841.0,790.1L843.0,789.6L845.0,789.9L847.0,789.1L849.0,788.9L851.0,790.5L852.9,789.9L854.9,789.7L856.9,790.4L858.9,789.4L860.9,790.2L862.9,790.1L864.9,788.9L866.8,788.9L868.8,788.9L870.7,788.7L872.7,789.3L874.6,788.6L876.6,788.8L878.5,788.2L880.5,789.6L882.4,788.5L884.4,788.6L886.3,788.8L888.3,789.3L890.2,788.3L892.2,789.1L894.1,788.3L896.1,788.3L898.0,788.2L900.0,787.2L902.1,787.9L904.1,787.3L906.2,786.8L908.3,788.1L910.3,786.8L912.4,787.3L914.5,787.6L916.5,787.1L918.6,786.6L920.5,786.5L922.4,786.1L924.3,786.1L926.2,784.5L928.1,784.8L930.0,783.8L932.0,783.4L934.0,783.8L936.0,782.8L938.2,781.5L940.5,780.5L942.2,778.7L944.0,776.0L946.5,770.5L950.4,760.0L952.3,750.0L954.3,735.0L956.0,710.0L959.5,620.0L961.4,520.0L963.5,430.0L963.6,370.0L964.4,330.0L966.7,270.0L968.5,210.0L970.4,122.0L972.3,210.0L973.3,270.0L974.5,330.0L976.5,370.0L977.4,420.0L979.5,520.0L984.5,620.0L990.4,710.0L992.2,730.0L994.2,750.0L996.2,765.0L999.0,773.9L1001.0,777.0L1003.0,779.5L1004.8,780.3L1006.5,781.3L1008.2,781.7L1010.0,782.6L1012.5,783.0L1015.0,784.3L1017.1,784.0L1019.2,784.4L1021.2,784.6L1023.3,783.5L1025.4,784.2L1027.5,785.0L1029.6,784.9L1031.7,783.8L1033.8,783.9L1035.8,784.6L1037.9,784.0L1040.0,784.4L1042.0,784.2L1044.0,785.4L1046.0,785.8L1048.0,786.1L1049.9,784.8L1051.9,786.0L1053.9,786.0L1055.9,785.2L1057.9,786.6L1059.9,786.9L1061.9,785.7L1063.9,787.1L1065.9,786.2L1067.8,786.5L1069.8,787.5L1071.8,787.3L1073.8,786.2L1075.8,786.8L1077.8,787.1L1079.8,786.9L1081.8,786.8L1083.8,787.1L1085.8,787.9L1087.7,786.8L1089.7,787.9L1091.7,787.8L1093.7,787.1L1095.7,787.8L1097.7,788.4L1099.7,788.3L1101.7,787.5L1103.7,789.3L1105.7,789.0L1107.7,789.4L1109.7,787.9L1111.6,788.3L1113.6,787.9L1115.6,789.4L1117.6,788.5L1119.6,788.3L1121.6,788.9L1123.6,789.9L1125.6,789.8L1127.6,788.9L1129.6,788.7L1131.6,790.2L1133.6,789.7L1135.6,790.0L1137.5,788.9L1139.5,789.0L1141.5,790.2L1143.5,789.8L1145.5,789.2L1147.5,790.8L1149.5,790.4L1151.5,790.7L1153.5,789.5L1155.5,791.0L1157.5,789.7L1159.5,791.2L1161.4,790.5L1163.4,790.4L1165.4,790.9L1167.4,791.6L1169.4,790.5L1171.4,790.4L1173.4,791.2L1175.4,790.7L1177.4,790.6L1179.3,790.7L1181.3,790.6L1183.3,791.0L1185.3,791.3L1187.3,791.3L1189.3,792.2L1191.3,791.5L1193.3,791.9L1195.3,791.4L1197.3,791.8L1199.2,791.3L1201.2,791.8L1203.2,791.5L1205.2,792.8L1207.2,792.6L1209.2,792.0L1211.2,792.6L1213.2,793.4L1215.2,792.0L1217.2,793.3L1219.1,792.7L1221.1,792.9L1223.1,793.5L1225.1,792.8L1227.1,793.0L1229.1,793.4L1231.1,794.0L1233.1,792.9L1235.1,793.8L1237.1,793.7L1239.0,793.6L1241.0,793.2L1243.0,793.2L1245.0,792.7L1247.0,792.9L1249.0,792.8L1251.0,794.1L1252.9,793.3L1254.9,793.2L1256.8,793.2L1258.8,794.6L1260.8,794.8L1262.7,794.5L1264.7,793.9L1266.7,793.9L1268.6,794.0L1270.6,794.4L1272.5,794.0L1274.5,794.6L1276.5,794.3L1278.4,795.6L1280.4,795.7L1282.3,795.1L1284.3,794.6L1286.3,796.0L1288.2,794.9L1290.2,795.0L1292.2,794.5L1294.1,795.2L1296.1,795.5L1298.0,795.6L1300.0,795.2L1302.0,795.7L1304.0,794.9L1306.0,795.4L1308.0,795.1L1310.0,795.7L1312.0,795.0L1314.0,795.0L1316.0,795.6L1318.0,795.5L1320.0,796.1L1322.0,796.0L1324.0,796.5L1326.0,796.3L1328.0,796.5L1330.0,796.8L1332.0,795.9L1334.0,795.8L1336.0,797.1L1338.0,795.6L1340.0,796.6L1342.0,796.5L1344.0,795.5L1346.0,796.9L1348.0,797.0L1350.0,796.6L1352.0,796.8L1354.0,797.0L1356.0,795.8L1358.0,796.5L1360.0,796.5L1362.0,797.1L1364.0,797.1L1366.1,797.1L1368.1,796.7L1370.1,797.3L1372.1,797.0L1374.1,797.0L1376.2,796.2L1378.2,795.8L1380.2,796.0L1382.2,796.5L1384.2,796.0L1386.3,797.4L1388.3,796.9L1390.3,797.0L1392.3,797.1L1394.3,797.2L1396.4,796.9L1398.4,796.0L1400.4,797.4L1402.4,797.4L1404.5,797.0L1406.5,797.0L1408.5,797.3L1410.5,796.2L1412.5,797.5L1414.6,796.6L1416.6,796.3L1418.6,796.7L1420.6,797.5L1422.6,796.6L1424.7,797.6L1426.7,798.0L1428.7,797.2L1430.7,797.0L1432.7,797.2L1434.6,797.6L1436.6,797.7L1438.6,797.5L1440.6,797.5L1442.6,796.5L1444.5,796.7L1446.5,796.9L1448.5,797.8L1450.5,797.0L1452.5,797.5L1454.4,796.5L1456.4,796.6L1458.4,797.0L1460.4,797.7L1462.4,797.8L1464.3,797.8L1466.3,797.1L1468.3,797.5L1470.3,797.4L1472.3,797.4L1474.3,796.8L1476.2,798.2L1478.2,797.0L1480.2,798.4L1482.2,798.4L1484.2,796.7L1486.1,797.5L1488.1,798.2L1490.1,798.5L1492.1,797.6L1494.1,797.2L1496.0,797.1L1498.0,798.5L1500.0,797.2L1502.0,797.9L1504.0,797.1L1506.1,797.8L1508.1,798.6L1510.1,797.1L1512.1,798.3L1514.1,797.8L1516.2,798.5L1518.2,798.2L1520.2,797.3L1522.2,798.5L1524.2,797.8L1526.3,797.0L1528.3,796.9L1530.3,797.8L1532.3,797.8L1534.3,797.5L1536.4,797.2L1538.4,797.6L1540.4,797.6L1542.4,798.5L1544.4,797.0L1546.5,798.4L1548.5,798.6L1550.5,797.3L1552.5,798.7L1554.5,798.4L1556.6,798.7L1558.6,797.6L1560.6,797.8L1562.6,797.8L1564.6,798.9L1566.7,798.2L1568.7,797.8L1570.7,797.9L1572.7,797.7L1574.7,797.3L1576.8,797.4L1578.8,798.7L1580.8,797.7L1582.8,798.9L1584.8,797.7L1586.9,797.7L1588.9,798.2L1590.9,798.2L1592.9,798.2L1594.9,798.2L1597.0,798.2L1599.0,798.2L1601.0,798.2" stroke="#f00" clip-path="url(#c1)"/>
<path d="M357.0,744.6L358.4,744.6L359.9,744.7L361.7,744.8L363.7,744.8L365.8,744.9L368.0,744.7L370.4,744.8L372.9,743.8L375.6,744.2L378.3,744.7L381.1,744.3L383.9,744.5L386.8,743.6L389.8,744.0L392.7,743.6L395.7,743.9L398.6,743.9L401.5,743.2L404.4,743.4L407.2,743.4L410.0,744.0L412.6,743.8L415.2,743.1L417.7,743.7L420.0,743.0L422.8,743.4L425.6,742.8L428.4,742.6L431.2,743.5L433.9,742.7L436.6,742.6L439.3,743.4L441.9,743.2L444.5,742.5L447.1,743.2L449.6,742.6L452.1,742.7L454.5,742.1L456.9,742.9L459.2,742.5L461.5,742.7L463.7,742.6L465.9,741.9L468.0,741.9L470.0,741.6L473.1,741.5L475.8,741.3L478.2,741.5L480.4,741.7L482.4,741.0L484.4,741.7L486.4,741.2L488.5,741.1L490.9,741.6L493.5,741.1L496.5,740.7L500.0,740.7L501.9,740.8L503.9,740.0L506.2,740.8L508.4,739.7L510.7,740.3L513.2,740.3L515.6,739.2L518.2,739.9L520.8,739.3L523.4,739.3L526.1,738.5L528.8,738.4L531.5,738.3L534.3,739.0L537.0,738.0L539.7,738.4L542.4,738.4L545.1,738.2L547.7,737.4L550.3,737.2L552.8,737.2L555.3,737.2L557.6,736.3L560.0,736.8L562.8,736.6L565.5,736.4L568.2,735.2L570.9,736.0L573.4,734.8L576.0,734.8L578.6,734.8L581.1,734.8L583.5,733.9L586.1,734.3L588.5,733.6L590.9,733.0L593.3,732.7L595.7,732.3L598.2,731.8L600.6,731.6L603.2,731.9L605.7,731.9L608.1,730.7L610.7,730.2L613.5,730.9L616.2,730.1L618.9,729.6L621.7,729.0L624.6,729.1L627.5,728.9L630.3,728.1L633.1,727.7L635.8,727.0L638.6,727.5L641.1,726.2L643.7,726.3L646.3,726.4L648.5,725.3L650.8,725.6L652.9,725.6L654.7,725.0L656.5,724.9L661.1,723.5L663.6,723.5L665.1,723.0L667.0,723.4L669.8,722.1L671.8,721.8L674.1,721.9L676.4,721.2L678.9,720.7L681.3,719.5L683.9,718.9L686.6,718.4L689.2,717.4L691.8,716.5L694.4,715.9L696.9,714.9L699.4,714.5L702.0,714.4L704.5,713.6L706.8,712.5L709.2,711.7L711.6,710.7L713.9,709.7L716.4,709.1L719.0,708.8L721.5,708.1L723.8,706.7L726.2,706.3L728.6,705.4L731.0,704.4L733.4,703.5L735.9,702.6L738.1,701.2L740.6,700.6L742.7,699.3L745.0,698.6L747.2,698.0L749.1,697.0L750.7,695.9L754.0,695.1L756.3,693.6L758.3,692.4L759.8,690.8L762.0,690.0L763.8,688.2L766.0,687.1L767.8,685.3L770.0,683.9L771.8,682.0L773.9,680.2L775.5,677.8L777.6,676.0L779.2,674.3L780.8,672.6L781.9,670.5L783.9,668.9L785.4,667.0L786.8,664.9L788.5,663.0L790.0,660.9L791.1,658.5L792.5,656.5L793.6,654.2L795.6,652.4L797.1,650.3L798.0,647.8L799.6,645.7L801.0,643.5L802.3,641.3L803.1,638.8L804.9,637.0L806.0,634.6L807.3,632.3L808.3,629.9L809.7,627.8L811.0,625.6L812.0,623.3L813.1,621.1L813.5,618.7L814.6,616.7L816.0,614.5L817.0,612.8L817.4,611.0L818.6,609.5L819.5,607.2L820.2,603.9L822.3,599.9L822.7,598.1L823.2,596.3L824.1,594.4L825.1,592.5L825.8,590.3L826.7,588.1L827.4,585.7L828.8,583.5L829.7,581.0L830.9,578.6L831.9,576.1L832.5,573.3L834.2,571.0L834.3,568.0L835.7,565.6L836.6,562.9L837.7,560.4L838.4,557.7L840.1,555.5L840.6,552.9L841.2,550.4L842.7,548.3L843.0,545.7L844.4,543.5L845.1,541.1L846.2,538.9L847.5,536.7L848.2,534.4L848.7,531.9L850.0,529.8L850.7,527.5L851.2,525.1L851.9,522.7L853.2,520.7L854.0,518.4L855.3,516.2L856.2,514.0L856.6,511.5L857.2,509.1L858.6,507.0L858.6,504.4L859.6,502.1L860.9,499.9L861.8,497.6L862.1,495.1L863.5,493.0L864.6,490.8L864.9,488.2L865.8,485.9L866.4,483.5L867.3,481.1L868.8,479.0L869.1,476.4L870.5,474.2L871.3,471.9L871.8,469.4L872.3,466.9L873.9,464.8L874.2,462.2L874.9,459.9L875.7,457.5L877.2,455.4L877.5,452.9L878.1,450.5L879.1,448.3L879.6,445.8L881.0,443.7L881.6,441.3L882.3,438.9L883.7,436.8L884.5,434.5L884.5,431.9L885.9,429.8L886.4,427.4L887.9,425.4L888.6,423.1L888.9,420.6L889.7,418.4L890.5,416.0L892.2,414.1L892.3,411.5L893.5,409.3L894.2,407.0L895.2,404.7L896.1,402.4L897.1,400.0L897.3,397.5L898.9,395.4L899.3,392.8L900.5,390.4L901.2,387.9L902.1,385.3L903.3,382.9L904.2,380.3L905.0,377.8L906.4,375.4L907.2,372.8L907.6,370.1L908.7,367.7L909.9,365.4L911.2,363.2L912.1,360.9L912.6,358.5L913.0,356.1L914.6,354.4L915.0,352.2L915.9,350.4L916.8,348.7L918.1,345.4L919.2,342.4L920.9,340.0L921.4,337.4L922.5,335.3L923.9,333.6L924.3,331.4L925.4,329.6L926.9,328.1L927.1,325.9L928.9,324.4L930.1,322.0L931.2,319.6L932.4,317.4L934.2,315.5L935.6,313.6L936.2,311.2L937.8,309.5L939.1,307.8L940.2,306.2L942.0,303.5L943.7,301.1L945.8,299.4L947.7,297.9L949.0,295.6L951.5,293.9L954.2,292.9L956.6,291.6L959.0,290.5L961.2,289.0L964.0,289.1L966.4,289.0L968.5,289.0L970.9,289.2L973.4,289.7L975.1,291.9L977.2,292.4L978.7,294.0L980.4,295.9L982.8,298.4L984.5,299.7L985.5,301.8L986.2,304.3L988.3,306.1L989.2,308.8L990.8,311.2L992.4,313.5L993.2,316.1L995.0,318.1L996.1,320.3L997.0,322.5L998.4,324.5L999.5,326.6L1000.1,328.9L1001.0,331.1L1001.9,333.3L1003.7,335.2L1004.5,337.6L1005.6,339.6L1006.3,341.8L1007.3,343.8L1007.8,346.0L1009.3,347.9L1010.6,350.0L1010.9,352.5L1012.5,354.7L1013.0,357.5L1014.3,360.1L1014.6,362.4L1015.8,364.4L1016.6,366.7L1017.9,368.9L1018.5,371.4L1019.7,373.8L1020.1,376.4L1021.3,378.9L1022.6,381.3L1023.4,383.9L1024.1,386.5L1024.6,389.1L1026.1,391.4L1026.4,394.0L1027.2,396.4L1028.6,398.6L1028.8,401.2L1030.2,403.4L1030.9,405.8L1031.2,408.3L1032.3,410.6L1032.4,413.2L1033.5,415.4L1034.5,417.8L1034.7,420.3L1036.3,422.5L1036.4,425.1L1037.9,427.2L1038.6,429.7L1038.6,432.5L1039.8,434.9L1041.1,437.3L1042.1,439.9L1042.2,442.8L1043.4,445.2L1044.1,447.8L1045.7,450.0L1046.1,452.6L1047.2,454.8L1048.1,457.0L1048.8,459.1L1049.2,461.2L1050.7,464.1L1051.7,466.9L1052.9,469.2L1053.2,471.7L1054.3,473.7L1055.0,475.8L1056.3,477.8L1056.9,480.2L1058.2,482.5L1059.1,484.9L1060.1,487.2L1061.0,489.7L1062.3,491.9L1063.7,494.2L1064.8,496.5L1065.8,499.0L1067.0,501.0L1067.2,503.6L1068.6,505.5L1069.4,507.7L1071.3,509.4L1072.0,511.8L1072.8,514.2L1074.3,516.2L1075.8,518.2L1077.0,520.1L1078.6,521.8L1079.8,523.8L1081.2,525.8L1082.4,527.9L1083.8,529.8L1084.8,532.1L1086.9,533.6L1088.3,535.6L1089.8,537.5L1091.4,539.4L1092.8,541.4L1094.5,543.3L1095.9,545.4L1097.9,547.1L1098.8,549.7L1100.9,551.2L1102.1,553.5L1104.0,555.3L1105.6,557.2L1107.5,559.0L1108.8,561.3L1111.2,562.7L1112.4,565.0L1114.5,566.7L1115.9,568.9L1117.5,570.9L1119.7,572.4L1121.4,574.4L1123.2,576.2L1124.8,578.3L1126.6,580.1L1128.0,582.2L1129.2,584.6L1131.4,586.1L1133.1,587.9L1134.7,590.0L1136.5,591.8L1137.9,594.0L1139.6,595.9L1141.8,597.4L1143.5,599.4L1144.9,601.7L1146.5,603.8L1148.5,605.5L1150.5,607.3L1151.9,609.6L1154.4,610.7L1156.2,612.6L1157.4,614.9L1159.4,616.4L1161.4,617.9L1162.8,620.0L1164.1,622.1L1166.2,623.5L1168.1,625.0L1170.0,626.3L1171.8,627.8L1173.0,629.9L1175.1,630.9L1177.2,632.8L1180.0,633.2L1182.3,634.5L1184.8,635.3L1187.1,636.6L1189.7,637.2L1192.1,638.4L1194.4,639.5L1196.9,640.4L1199.5,641.2L1201.9,642.2L1203.9,644.2L1206.7,644.3L1209.0,645.6L1211.5,646.5L1213.8,647.5L1216.4,647.9L1218.7,648.9L1221.2,649.5L1223.4,650.8L1225.7,651.9L1228.2,652.3L1230.5,653.3L1233.1,653.4L1235.6,653.9L1238.1,655.3L1240.7,656.0L1243.3,656.8L1245.9,657.4L1248.2,658.3L1250.3,659.0L1252.1,659.8L1254.9,659.9L1256.2,660.5L1259.9,661.8L1261.8,661.6L1263.8,661.9L1265.9,662.7L1268.4,663.0L1270.7,664.4L1273.4,665.1L1276.2,665.2L1279.1,665.6L1281.8,666.2L1284.5,667.0L1287.2,667.4L1289.6,668.3L1292.0,669.0L1294.5,669.1L1297.0,669.4L1299.3,670.5L1301.9,670.3L1304.3,670.9L1306.7,671.4L1309.1,672.0L1311.6,672.1L1314.0,672.9L1316.4,673.2L1318.8,674.2L1321.3,674.4L1323.7,675.3L1326.2,675.5L1328.6,676.1L1331.2,676.3L1333.7,676.7L1336.1,677.6L1338.6,677.9L1341.0,678.6L1343.5,678.8L1346.0,679.2L1348.5,679.1L1350.9,680.1L1353.4,680.0L1355.9,680.1L1358.4,680.4L1360.8,680.9L1363.3,681.3L1365.7,682.1L1368.2,681.9L1370.6,682.0L1373.0,683.0L1375.5,683.0L1378.0,682.6L1380.4,682.9L1382.9,683.1L1385.3,683.5L1387.8,684.2L1390.2,684.3L1392.7,684.1L1395.1,683.7L1397.6,684.0L1400.0,683.9L1402.5,684.0L1405.0,683.6L1407.4,684.3L1409.9,684.6L1412.5,684.5L1415.2,683.8L1417.9,684.3L1420.5,683.9L1423.2,684.5L1425.8,684.2L1428.3,684.7L1430.7,684.5L1432.9,683.8L1435.0,684.0L1436.8,684.7L1440.1,684.2L1442.4,684.2L1444.1,684.2L1445.9,684.7L1448.5,685.2L1450.7,685.0L1453.2,685.9L1455.9,685.9L1458.8,685.9L1461.5,687.1L1464.3,687.2L1466.8,687.2L1468.8,688.6L1471.7,688.1L1473.7,689.1L1475.5,689.3L1477.4,690.1L1480.0,690.0L1482.2,690.2L1484.6,690.7L1487.2,691.1L1489.8,691.9L1492.6,692.1L1495.2,692.9L1498.0,692.7L1500.3,693.0L1502.7,693.1L1505.0,694.1L1507.4,694.1L1509.8,694.3L1512.3,694.1L1514.7,693.9L1517.1,693.7L1519.5,694.4L1521.9,694.0L1524.3,693.3L1526.7,693.3L1529.1,693.1L1531.6,693.6L1534.0,693.6L1536.4,692.7L1538.8,693.2L1541.2,692.4L1543.7,692.6L1546.1,692.6L1548.5,692.1L1550.9,692.1L1553.3,691.4L1555.7,690.8L1558.1,691.2L1560.5,691.2L1562.9,690.6L1565.3,690.7L1567.7,690.5L1570.1,690.1L1572.6,690.3L1575.0,690.3L1577.6,690.3L1580.3,690.6L1583.1,690.2L1585.8,690.8L1588.5,690.6L1591.0,690.8L1593.2,690.5L1595.0,690.3L1599.2,690.3L1601.0,690.3" stroke="#00f"/>
</g>
<text transform="translate(296.5,93.3)" font-size="72" fill="#000" text-anchor="end" textLength="169" lengthAdjust="spacingAndGlyphs">60000</text>
<text transform="translate(296.5,214.8)" font-size="72" fill="#000" text-anchor="end" textLength="169" lengthAdjust="spacingAndGlyphs">50000</text>
<text transform="translate(296.5,336.2)" font-size="72" fill="#000" text-anchor="end" textLength="169" lengthAdjust="spacingAndGlyphs">40000</text>
<text transform="translate(296.5,457.7)" font-size="72" fill="#000" text-anchor="end" textLength="169" lengthAdjust="spacingAndGlyphs">30000</text>
<text transform="translate(296.5,579.1)" font-size="72" fill="#000" text-anchor="end" textLength="169" lengthAdjust="spacingAndGlyphs">20000</text>
<text transform="translate(296.5,700.5)" font-size="72" fill="#000" text-anchor="end" textLength="169" lengthAdjust="spacingAndGlyphs">10000</text>
<text transform="translate(296.5,822.0)" font-size="72" fill="#000" text-anchor="end">0</text>
<text transform="translate(363.4,919)" font-size="72" fill="#000" text-anchor="middle" textLength="104" lengthAdjust="spacingAndGlyphs">500</text>
<text transform="translate(669.8,919)" font-size="72" fill="#000" text-anchor="middle" textLength="104" lengthAdjust="spacingAndGlyphs">550</text>
<text transform="translate(976.2,919)" font-size="72" fill="#000" text-anchor="middle" textLength="104" lengthAdjust="spacingAndGlyphs">600</text>
<text transform="translate(1282.6,919)" font-size="72" fill="#000" text-anchor="middle" textLength="104" lengthAdjust="spacingAndGlyphs">650</text>
<text transform="translate(1589.0,919)" font-size="72" fill="#000" text-anchor="middle" textLength="104" lengthAdjust="spacingAndGlyphs">700</text>
<text transform="translate(1655.0,94.0)" font-size="72" fill="#00f" text-anchor="start" textLength="103" lengthAdjust="spacingAndGlyphs">100</text>
<text transform="translate(1656.5,239.6)" font-size="72" fill="#00f" text-anchor="start" textLength="70.5" lengthAdjust="spacingAndGlyphs">80</text>
<text transform="translate(1656.5,385.2)" font-size="72" fill="#00f" text-anchor="start" textLength="70.5" lengthAdjust="spacingAndGlyphs">60</text>
<text transform="translate(1656.5,530.8)" font-size="72" fill="#00f" text-anchor="start" textLength="70.5" lengthAdjust="spacingAndGlyphs">40</text>
<text transform="translate(1656.5,676.4)" font-size="72" fill="#00f" text-anchor="start" textLength="70.5" lengthAdjust="spacingAndGlyphs">20</text>
<text transform="translate(1656.5,822.0)" font-size="72" fill="#00f" text-anchor="start">0</text>
<text transform="translate(693.5,997)" font-size="78" fill="#000"><tspan x="0.0" textLength="402.5" lengthAdjust="spacingAndGlyphs">Wavelength</tspan> <tspan x="417.5" textLength="160.3" lengthAdjust="spacingAndGlyphs">(nm)</tspan></text>
<text transform="translate(88,656) rotate(-90)" font-size="78" fill="#000"><tspan x="0.0" textLength="298.0" lengthAdjust="spacingAndGlyphs">Intensity</tspan> <tspan x="317.0" textLength="163.3" lengthAdjust="spacingAndGlyphs">(a.u.)</tspan></text>
<text transform="translate(1836.5,678) rotate(-90)" font-size="78" fill="#00f"><tspan x="0.0" textLength="377.1" lengthAdjust="spacingAndGlyphs">Reflectance</tspan> <tspan x="396.0" textLength="110.8" lengthAdjust="spacingAndGlyphs">(%)</tspan></text>
</svg>
</body></html>
